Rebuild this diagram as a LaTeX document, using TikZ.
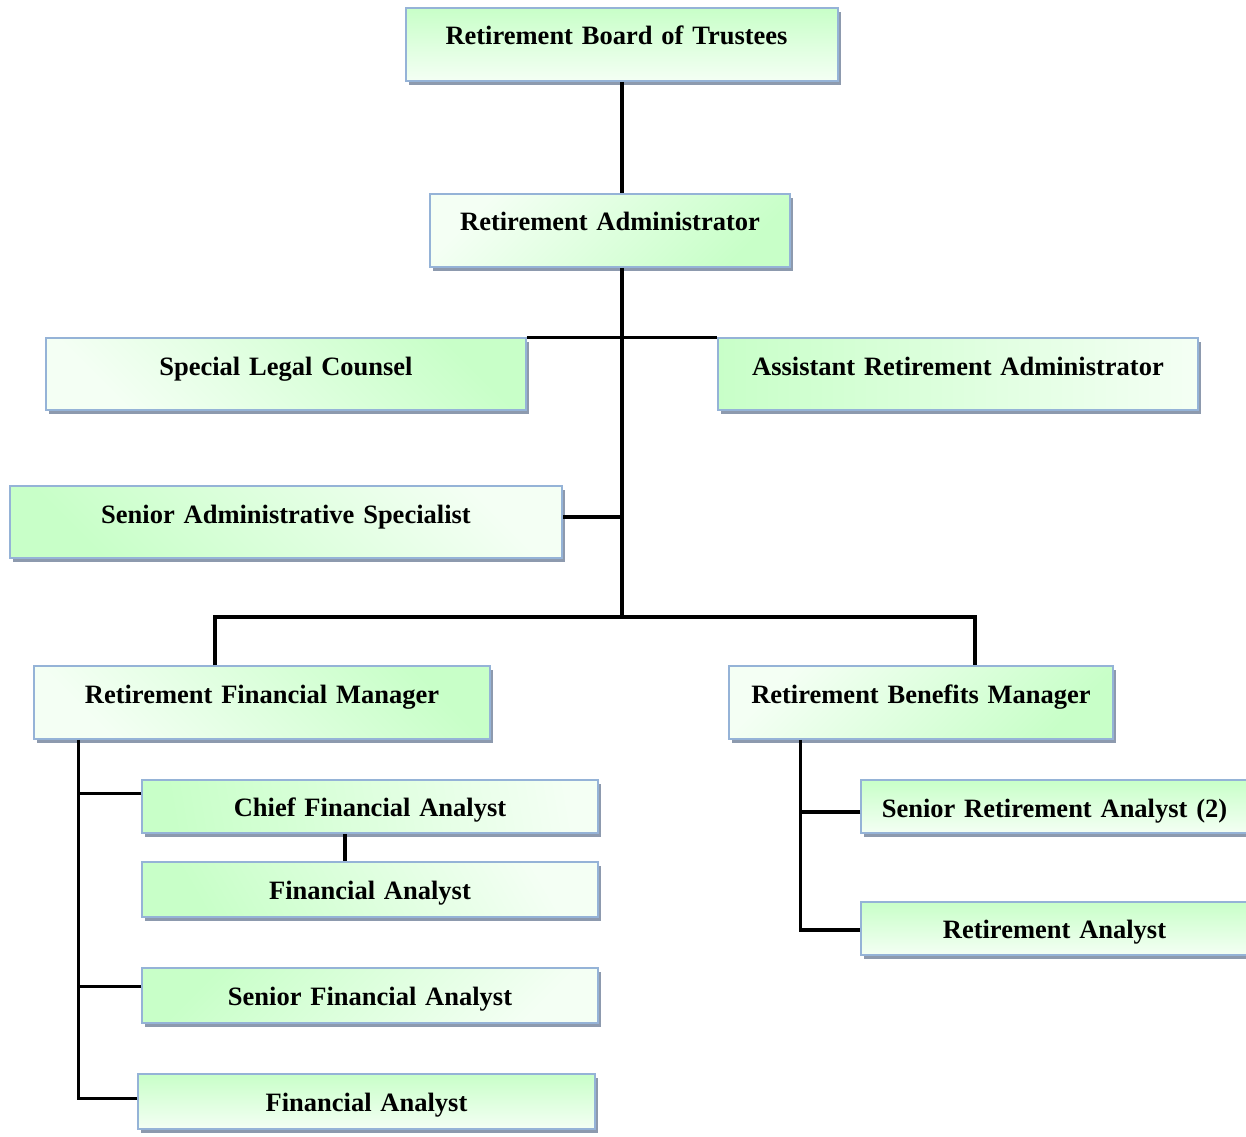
\documentclass[tikz,border=0pt]{standalone}
\usepackage{fontspec}
\setmainfont{Liberation Serif}
\usetikzlibrary{shadows}
\definecolor{gr}{HTML}{C8FFC8}
\definecolor{wh}{HTML}{F4FFF4}
\definecolor{bordc}{HTML}{95B3D7}
\definecolor{shc}{HTML}{8D9AAE}
\tikzset{
  box/.style={draw=bordc, line width=1.5pt, inner sep=0pt, align=center, anchor=base,
    font=\fontsize{26.5}{30}\selectfont\bfseries,
    general shadow={shadow xshift=3pt, shadow yshift=-4pt, fill=shc}},
  gshade/.style={top color=gr, bottom color=wh, shading angle=#1},
  conn/.style={line width=3.4pt, black, line join=miter}
}
\begin{document}
\begin{tikzpicture}[x=1pt,y=-1pt]
\useasboundingbox (0,0) rectangle (1246,1136);
\node[box, gshade=0, text width=432pt, text height=36pt, text depth=37pt] (board) at (622,44) {\hspace*{-11pt}Retirement Board of Trustees};
\node[box, gshade=-135, text width=360pt, text height=36pt, text depth=37pt] (admin) at (610,230) {Retirement Administrator};
\node[box, gshade=-45, text width=480pt, text height=37pt, text depth=35pt] (legal) at (286,375) {Special Legal Counsel};
\node[box, gshade=90, text width=480pt, text height=37pt, text depth=35pt] (asst) at (958,375) {Assistant Retirement Administrator};
\node[box, gshade=135, text width=552pt, text height=37pt, text depth=35pt] (sas) at (286,523) {Senior Administrative Specialist};
\node[box, gshade=-45, text width=456pt, text height=37pt, text depth=36pt] (fm) at (262,703) {Retirement Financial Manager};
\node[box, gshade=-135, text width=384pt, text height=37pt, text depth=36pt] (bm) at (921,703) {Retirement Benefits Manager};
\node[box, gshade=100, text width=456pt, text height=36pt, text depth=17pt] (cfa) at (370,816) {Chief Financial Analyst};
\node[box, gshade=120, text width=456pt, text height=37pt, text depth=18pt] (fa) at (370,899) {Financial Analyst};
\node[box, gshade=45, text width=456pt, text height=37pt, text depth=18pt] (sfa) at (370,1005) {Senior Financial Analyst};
\node[box, gshade=0, text width=457pt, text height=37pt, text depth=18pt] (fa2) at (366.5,1111) {Financial Analyst};
\node[box, gshade=0, text width=387pt, text height=37pt, text depth=16pt] (sra) at (1054.5,817) {Senior Retirement Analyst (2)};
\node[box, gshade=0, text width=387pt, text height=36pt, text depth=17pt] (ra) at (1054.5,938) {Retirement Analyst};

\coordinate (hub) at (622,617);
\coordinate (sp) at ([xshift=45pt]fm.south west);
\coordinate (sp2) at ([xshift=72pt]bm.south west);

\draw[conn] (board.south) -- (board.south |- admin.north);
\draw[conn] (board.south |- admin.south) -- (hub);
\draw[conn] (legal.north east) -- (asst.north west);
\draw[conn] ([yshift=5pt]sas.east) -- ([yshift=5pt]sas.east -| hub);
\draw[conn] ([xshift=-47pt]fm.north) |- (hub) -| ([xshift=54pt]bm.north);
\draw[conn] (sp) |- ([yshift=3pt]fa2.west);
\draw[conn] ([yshift=13pt]cfa.west) -- ([yshift=13pt]cfa.west -| sp);
\draw[conn] ([yshift=9pt]sfa.west) -- ([yshift=9pt]sfa.west -| sp);
\draw[conn] ([xshift=-25pt]cfa.south) -- ([xshift=-25pt]fa.north);
\draw[conn] (sp2) |- ([yshift=-1.5pt]ra.west);
\draw[conn] ([yshift=-5.5pt]sra.west) -- ([yshift=-5.5pt]sra.west -| sp2);
\end{tikzpicture}
\end{document}
